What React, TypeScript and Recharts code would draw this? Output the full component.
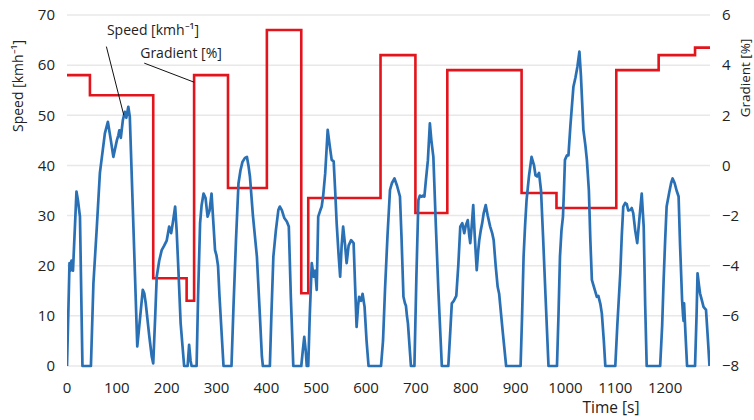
import React from 'react';
import { LineChart, Line, XAxis, YAxis, CartesianGrid, ReferenceLine } from 'recharts';

const speedTimes = [
  0, 3, 5, 7, 9, 12, 16, 19, 22, 26, 31, 48, 53, 60, 66, 76, 82, 88, 93, 100, 103, 105, 108, 112, 116, 119, 123, 126,
  133, 141, 147, 152, 155, 158, 165, 170, 173, 177, 180, 185, 190, 195, 200, 205, 209, 213, 217, 220, 224, 228, 235,
  242, 245, 248, 250, 260, 263, 267, 270, 274, 278, 282, 286, 290, 294, 297, 300, 303, 306, 314, 330, 334, 339, 344,
  348, 352, 357, 361, 364, 367, 373, 381, 386, 391, 393, 407, 410, 414, 419, 424, 427, 431, 436, 441, 445, 449, 454,
  470, 473, 476, 479, 481, 484, 487, 491, 495, 498, 501, 504, 508, 511, 514, 518, 523, 527, 531, 535, 538, 541, 545,
  548, 551, 554, 558, 561, 565, 570, 575, 578, 581, 584, 586, 590, 593, 597, 601, 605, 630, 634, 638, 643, 648, 652,
  657, 662, 668, 671, 675, 678, 680, 682, 684, 690, 697, 701, 705, 708, 711, 714, 717, 720, 724, 728, 731, 735, 740,
  745, 752, 765, 769, 772, 776, 781, 785, 789, 793, 797, 800, 804, 807, 809, 812, 815, 818, 822, 825, 827, 830, 833,
  836, 840, 844, 849, 853, 856, 860, 864, 867, 874, 881, 910, 913, 916, 919, 922, 927, 932, 937, 940, 943, 947, 951,
  955, 960, 966, 983, 986, 989, 992, 995, 997, 999, 1003, 1006, 1010, 1016, 1020, 1024, 1028, 1031, 1033, 1036, 1040,
  1043, 1047, 1050, 1053, 1058, 1063, 1066, 1070, 1073, 1077, 1080, 1100, 1104, 1110, 1113, 1116, 1120, 1123, 1126,
  1130, 1133, 1136, 1140, 1144, 1148, 1153, 1157, 1160, 1163, 1190, 1194, 1197, 1200, 1203, 1208, 1212, 1215, 1219,
  1223, 1227, 1230, 1234, 1236, 1237, 1238, 1241, 1244, 1260, 1263, 1265, 1268, 1270, 1274, 1277, 1282, 1286, 1289,
];

const speedValues = [
  0, 12, 20.5, 19, 21, 19, 28, 34.8, 33, 29.8, 0, 0, 16.5, 28, 38.5, 46.4, 48.7, 45, 41.7, 45, 46, 47, 45.5, 49, 50.7, 49.5, 51.7, 49.7,
  28.5, 3.9, 10, 15.2, 14.5, 12.5, 6, 1.9, 0.5, 10, 17.8, 21, 23.1, 24, 25, 27.8, 26.5, 29, 31.8, 27, 18, 8.5, 0,
  0, 4.2, 1, 0, 0, 14, 28.5, 32, 34.4, 33.5, 29.8, 31, 34.4, 28, 23.1, 22, 20, 13.8, 0, 0, 11.8, 25, 36.4,
  39, 40.7, 41.5, 41.7, 40, 37.8, 30, 21.8, 12, 1.9, 0, 0, 10, 21.8, 27, 31.1, 31.8, 31.1, 29.5, 28.8, 27.8, 14, 0,
  0, 3, 5.8, 3, 0, 0, 10, 20.5, 17.8, 19, 15.2, 29.8, 31, 31.8, 34, 38.4, 47.1, 44, 41.1, 40.8, 35, 28.5, 22,
  17.8, 24, 27.8, 24, 20.5, 24, 25.1, 24.5, 16, 7.8, 12, 13.8, 13, 14.4, 11.8, 5, 0, 0, 5, 15.2, 26, 35.1, 36.5,
  37.4, 36, 33.8, 26, 13.8, 12.5, 12, 10, 8.5, 0, 0, 18, 33.1, 34, 33.8, 34, 33.8, 37, 41, 48.4, 45, 41.7, 28,
  15.2, 0, 0, 7, 12.5, 13, 14, 20, 27.8, 28.5, 26.5, 28, 29.1, 26, 24.5, 28, 32.1, 26, 19.1, 23, 25, 27, 28.5,
  30.5, 32.1, 30, 27.8, 26.5, 25.1, 20, 15.8, 14.4, 7, 0, 0, 10, 21.8, 28, 33.1, 38, 41.7, 40, 38, 37.8, 38.5, 35,
  26, 14, 0, 0, 10, 21.8, 27, 29.8, 35, 41.1, 42, 42, 48, 55.7, 57.5, 59.7, 62.7, 58, 53.7, 47.1, 44,
  41.1, 35, 25, 17.2, 15.5, 13.8, 14, 12.4, 10.5, 5, 0, 0, 8, 18.5, 26, 31.8, 32.5, 32.3, 31,
  31.1, 31.5, 30.5, 27, 24.5, 29, 34.4, 27.8, 12, 0, 0, 8, 17.2, 25, 31.8, 34.5, 36.5, 37.4, 36.5,
  35, 33.8, 24, 13.2, 10, 9, 12.5, 6, 0, 0, 10, 18.5, 16, 14.5, 13, 11.8, 11.2, 5, 0,
];

const gradientTimes = [0, 46, 173, 240, 255, 323, 401, 470, 484, 629, 699, 763, 912, 982, 1102, 1187, 1260, 1290];
const gradientValues = [3.6, 2.8, -4.5, -5.4, 3.6, -0.9, 5.4, -5.1, -1.3, 4.4, -1.9, 3.8, -1.1, -1.7, 3.8, 4.4, 4.7, 4.7];

const timeTicks = [0, 100, 200, 300, 400, 500, 600, 700, 800, 900, 1000, 1100, 1200];
const speedTicks = [0, 10, 20, 30, 40, 50, 60, 70];
const gradientTicks = [-8, -6, -4, -2, 0, 2, 4, 6];

const speedData = speedTimes.map((t, i) => ({ t, s: speedValues[i] }));
const gradientData = gradientTimes.map((t, i) => ({ t, g: gradientValues[i] }));

const FONT = "'Open Sans', sans-serif";
const tickStyle = { fontSize: 15, fill: '#222', fontFamily: FONT };
const fmtMinus = (v: number) => (v < 0 ? '\u2212' + Math.abs(v) : String(v));

export default function App() {
  return (
    <div style={{ position: 'absolute', left: 0, top: 0, width: 754, height: 420, background: '#fff', overflow: 'hidden' }}>
      <LineChart width={754} height={420} margin={{ top: 15, right: 0, bottom: 24, left: 0 }}>
        <CartesianGrid yAxisId="speed" vertical={false} stroke="#e8e8e8" strokeWidth={1.5} />
        <XAxis
          type="number"
          dataKey="t"
          domain={[0, 1290]}
          ticks={timeTicks}
          allowDataOverflow
          axisLine={false}
          tickLine={false}
          tickMargin={10}
          height={30}
          tick={tickStyle}
          interval={0}
        />
        <YAxis
          yAxisId="speed"
          domain={[0, 70]}
          ticks={speedTicks}
          width={67}
          axisLine={false}
          tickLine={false}
          tickMargin={6}
          tick={tickStyle}
          interval={0}
        />
        <YAxis
          yAxisId="grad"
          orientation="right"
          domain={[-8, 6]}
          ticks={gradientTicks}
          width={44}
          axisLine={false}
          tickLine={false}
          tickMargin={6}
          tick={tickStyle}
          tickFormatter={fmtMinus}
          interval={0}
        />
        <Line
          yAxisId="grad"
          data={gradientData}
          dataKey="g"
          type="stepAfter"
          stroke="#e2141c"
          strokeWidth={2.6}
          dot={false}
          isAnimationActive={false}
        />
        <Line
          yAxisId="speed"
          data={speedData}
          dataKey="s"
          type="linear"
          stroke="#2a70b5"
          strokeWidth={2.7}
          dot={false}
          isAnimationActive={false}
          strokeLinejoin="round"
        />
        <ReferenceLine yAxisId="speed" segment={[{ x: 79, y: 63.7 }, { x: 114, y: 50 }]} stroke="#111" strokeWidth={1} />
        <ReferenceLine yAxisId="speed" segment={[{ x: 155, y: 60.4 }, { x: 255, y: 56.6 }]} stroke="#111" strokeWidth={1} />
      </LineChart>
      <svg width={754} height={420} style={{ position: 'absolute', left: 0, top: 0, pointerEvents: 'none' }}>
        <text x={153} y={35} textAnchor="middle" fontSize={14} fill="#222" fontFamily={FONT}>Speed [kmh⁻¹]</text>
        <text x={181} y={58} textAnchor="middle" fontSize={14} fill="#222" fontFamily={FONT}>Gradient [%]</text>
        <text transform="translate(23,86) rotate(-90)" textAnchor="middle" fontSize={14} fill="#222" fontFamily={FONT}>Speed [kmh⁻¹]</text>
        <text transform="translate(750,78) rotate(-90)" textAnchor="middle" fontSize={13.5} fill="#222" fontFamily={FONT}>Gradient [%]</text>
        <text x={611} y={413} textAnchor="middle" fontSize={15.5} fill="#222" fontFamily={FONT}>Time [s]</text>
      </svg>
    </div>
  );
}
